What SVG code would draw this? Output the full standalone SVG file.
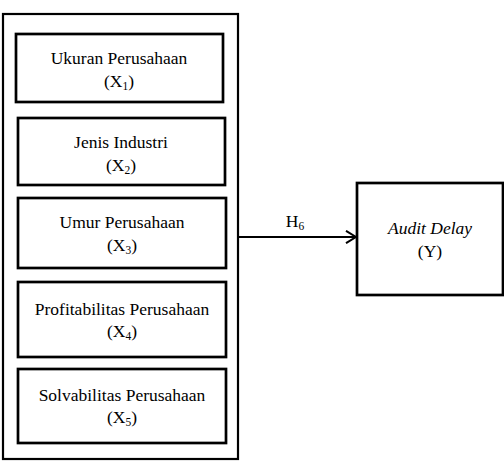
<svg xmlns="http://www.w3.org/2000/svg" width="504" height="461" viewBox="0 0 504 461">
<style>
text{font-family:"Liberation Serif","Times New Roman",serif;font-size:17.5px;fill:#000;text-anchor:middle}
.sub{font-size:11.5px}
.box{fill:#fff;stroke:#000;stroke-width:2.7}
.outer{fill:#fff;stroke:#000;stroke-width:2.2}
.conn{fill:none;stroke:#000;stroke-width:2}
</style>
<defs>
<marker id="arr" viewBox="0 0 12 14" refX="11" refY="7" markerWidth="12" markerHeight="14" markerUnits="userSpaceOnUse" orient="auto">
<path d="M1,0.8 L11,7 L1,13.2" fill="none" stroke="#000" stroke-width="2"/>
</marker>
</defs>
<g id="group-x">
<rect class="outer" x="3" y="14" width="235" height="445"/>
</g>
<g id="x1">
<rect class="box" x="16" y="34" width="207" height="68"/>
<text x="119" y="64">Ukuran Perusahaan</text>
<text x="119" y="87">(X<tspan class="sub" dy="3">1</tspan><tspan dy="-3">)</tspan></text>
</g>
<g id="x2">
<rect class="box" x="18" y="118" width="207" height="67"/>
<text x="121" y="148">Jenis Industri</text>
<text x="121" y="171">(X<tspan class="sub" dy="3">2</tspan><tspan dy="-3">)</tspan></text>
</g>
<g id="x3">
<rect class="box" x="18" y="198" width="208" height="70"/>
<text x="122" y="228">Umur Perusahaan</text>
<text x="122" y="251">(X<tspan class="sub" dy="3">3</tspan><tspan dy="-3">)</tspan></text>
</g>
<g id="x4">
<rect class="box" x="18" y="282" width="208" height="75"/>
<text x="122" y="315">Profitabilitas Perusahaan</text>
<text x="122" y="337">(X<tspan class="sub" dy="3">4</tspan><tspan dy="-3">)</tspan></text>
</g>
<g id="x5">
<rect class="box" x="18" y="369" width="208" height="74"/>
<text x="122" y="401">Solvabilitas Perusahaan</text>
<text x="122" y="423">(X<tspan class="sub" dy="3">5</tspan><tspan dy="-3">)</tspan></text>
</g>
<g id="y">
<rect class="box" x="357" y="183" width="146" height="112"/>
<text x="430" y="234" font-style="italic">Audit Delay</text>
<text x="430" y="257">(Y)</text>
</g>
<g id="connectors">
<line class="conn" x1="238" y1="237" x2="356" y2="237" marker-end="url(#arr)"/>
<text x="295" y="227">H<tspan class="sub" dy="3">6</tspan></text>
</g>
</svg>
